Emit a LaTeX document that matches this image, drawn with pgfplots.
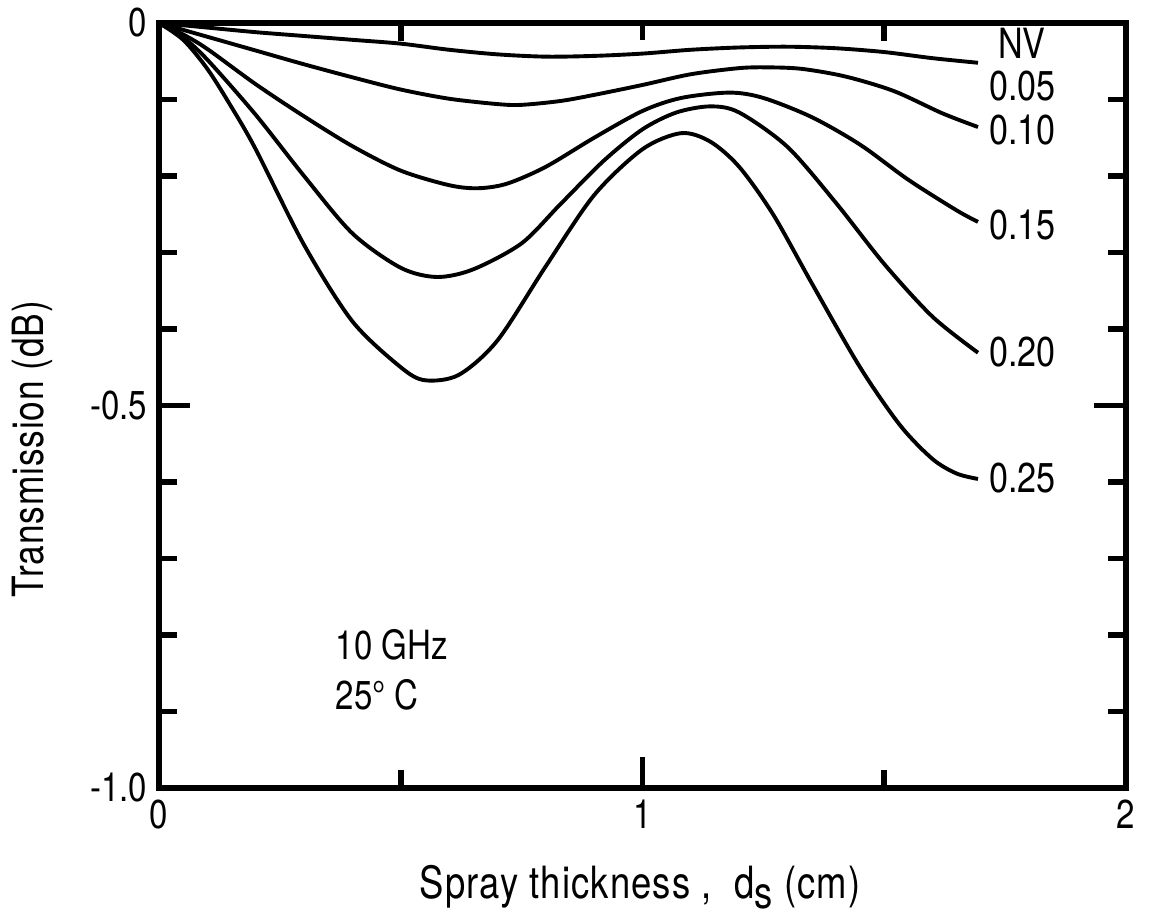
\documentclass[border=0pt]{standalone}
\usepackage{fontspec}
\setmainfont{TeX Gyre Heros}[FakeStretch=0.82]
\usepackage{pgfplots}
\pgfplotsset{compat=1.18}

% Transmission curves for several water volume fractions
\pgfplotstableread{
x y
0 0
0.05 -0.003
0.1 -0.006
0.2 -0.012
0.3 -0.017
0.4 -0.022
0.5 -0.027
0.6 -0.035
0.7 -0.041
0.8 -0.044
0.9 -0.043
1.0 -0.040
1.1 -0.035
1.2 -0.032
1.3 -0.031
1.4 -0.033
1.5 -0.038
1.6 -0.046
1.694 -0.052
}\nvA
\pgfplotstableread{
x y
0 0
0.05 -0.009
0.1 -0.018
0.2 -0.036
0.3 -0.054
0.4 -0.071
0.5 -0.087
0.6 -0.099
0.7 -0.106
0.75 -0.107
0.83 -0.102
0.9 -0.094
1.0 -0.081
1.1 -0.067
1.2 -0.059
1.26 -0.058
1.33 -0.060
1.42 -0.070
1.52 -0.089
1.62 -0.118
1.694 -0.136
}\nvB
\pgfplotstableread{
x y
0 0
0.05 -0.015
0.1 -0.034
0.2 -0.080
0.3 -0.122
0.4 -0.161
0.5 -0.193
0.6 -0.212
0.66 -0.216
0.72 -0.210
0.8 -0.188
0.9 -0.150
1.0 -0.115
1.08 -0.098
1.18 -0.091
1.25 -0.098
1.35 -0.123
1.45 -0.159
1.55 -0.205
1.65 -0.245
1.694 -0.260
}\nvC
\pgfplotstableread{
x y
0 0
0.05 -0.019
0.1 -0.048
0.2 -0.120
0.3 -0.200
0.4 -0.275
0.5 -0.320
0.575 -0.332
0.65 -0.322
0.75 -0.288
0.83 -0.237
0.92 -0.180
1.0 -0.139
1.07 -0.117
1.14 -0.109
1.2 -0.117
1.3 -0.162
1.4 -0.235
1.5 -0.315
1.6 -0.384
1.694 -0.431
}\nvD
\pgfplotstableread{
x y
0 0
0.05 -0.022
0.1 -0.060
0.15 -0.110
0.2 -0.165
0.3 -0.290
0.4 -0.390
0.5 -0.450
0.55 -0.467
0.62 -0.460
0.7 -0.415
0.8 -0.318
0.9 -0.225
1.0 -0.165
1.08 -0.144
1.14 -0.155
1.2 -0.188
1.27 -0.250
1.35 -0.340
1.45 -0.450
1.533 -0.526
1.6 -0.570
1.65 -0.589
1.694 -0.596
}\nvE

\begin{document}
\begin{tikzpicture}
\useasboundingbox (-57.24pt,-48.24pt) rectangle (356.4pt,283.68pt);
\begin{axis}[
  at={(0,0)}, anchor=south west, scale only axis,
  width=348.1pt, height=275.4pt,
  xmin=0, xmax=2, ymin=-1, ymax=0,
  line width=2pt,
  every tick/.style={line width=2pt, black},
  tick align=inside,
  xtick={0,1,2}, xticklabels={0,1,2},
  minor xtick={0.5,1.5},
  ytick={-1,-0.5,0}, yticklabels={-1.0,-0.5,0},
  minor ytick={-0.9,-0.8,-0.7,-0.6,-0.4,-0.3,-0.2,-0.1},
  major tick length=6pt,
  minor tick length=6.5pt,
  tick label style={font=\fontsize{14.5}{16}\selectfont},
  /pgf/number format/assume math mode=true,
  clip=false,
]
\addplot[black, line width=1.4pt, smooth] table {\nvA};
\addplot[black, line width=1.4pt, smooth] table {\nvB};
\addplot[black, line width=1.4pt, smooth] table {\nvC};
\addplot[black, line width=1.4pt, smooth] table {\nvD};
\addplot[black, line width=1.4pt, smooth] table {\nvE};

\begin{scope}[every node/.style={anchor=west, inner sep=0pt, font=\fontsize{15}{17}\selectfont}]
\node at (axis cs:1.73,-0.026) {NV};
\node at (axis cs:1.712,-0.083) {0.05};
\node at (axis cs:1.712,-0.140) {0.10};
\node at (axis cs:1.712,-0.264) {0.15};
\node at (axis cs:1.712,-0.430) {0.20};
\node at (axis cs:1.712,-0.595) {0.25};
\end{scope}
\end{axis}

% longer ticks: x = 1 on the lower edge, y = -0.5 on both sides
\draw[line width=2pt] (174.05pt,0pt) -- (174.05pt,11pt);
\draw[line width=2pt] (0pt,137.7pt) -- (11pt,137.7pt);
\draw[line width=2pt] (348.1pt,137.7pt) -- (336.6pt,137.7pt);

\node[anchor=base west, inner sep=0pt, font=\fontsize{14.5}{18}\selectfont]
  at (63.4pt,46.1pt) {10 GHz};
\node[anchor=base west, inner sep=0pt, font=\fontsize{14.5}{18}\selectfont]
  at (63.4pt,28.1pt) {25° C};
\node[rotate=90, inner sep=0pt, font=\fontsize{15.5}{18}\selectfont\addfontfeatures{LetterSpace=2}]
  at (-45.7pt,122pt) {Transmission (dB)};
\node[anchor=base, inner sep=0pt, font=\fontsize{16}{18}\selectfont\addfontfeatures{LetterSpace=2.5}]
  at (173.2pt,-39.6pt) {Spray thickness ,\ \ d\raisebox{-0.45ex}{s} (cm)};
\end{tikzpicture}
\end{document}
